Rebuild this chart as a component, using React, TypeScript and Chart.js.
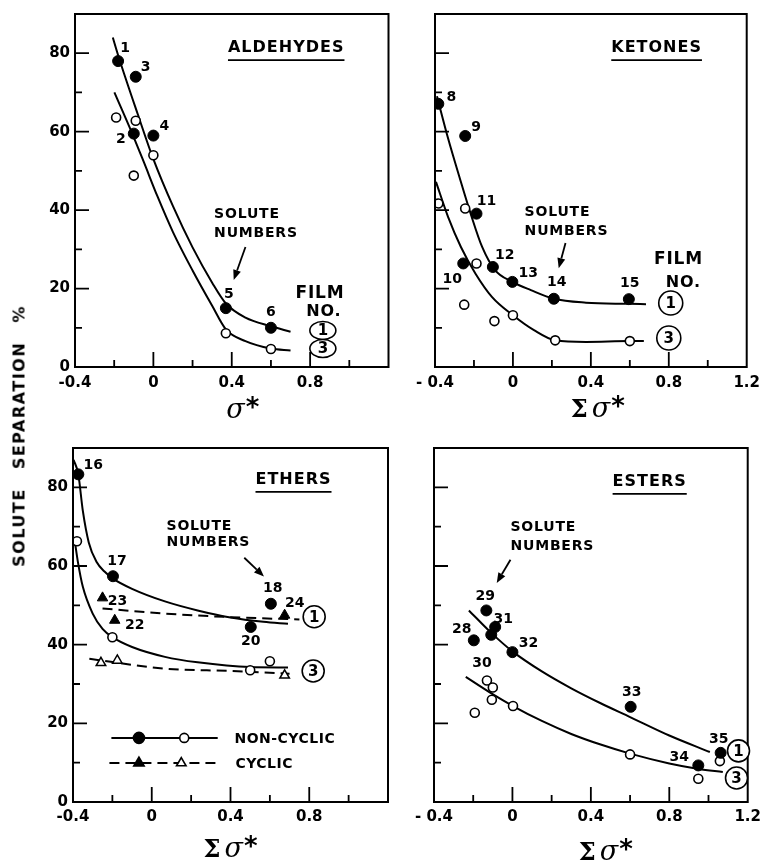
import React, { useEffect, useRef } from "react";
import { Chart, registerables } from "chart.js";

Chart.register(...registerables);

const SANS = '"DejaVu Sans", sans-serif';
const SERIF = '"DejaVu Serif", serif';

// ---------- Axis ticks ----------
const yTickValues = [0, 20, 40, 60, 80];
const yTickLabels = ["0", "20", "40", "60", "80"];
const xTickValuesLeft = [-0.4, 0, 0.4, 0.8];
const xTickLabelsLeft = ["-0.4", "0", "0.4", "0.8"];
const xTickValuesRight = [-0.4, 0, 0.4, 0.8, 1.2];
const xTickLabelsRight = ["- 0.4", "0", "0.4", "0.8", "1.2"];

// ---------- Aldehydes ----------
const aldFilm1X = [-0.18, -0.09, -0.1, 0.0, 0.37, 0.6];
const aldFilm1Y = [78, 74, 59.5, 59, 15, 10];
const aldFilm1Labels = ["1", "3", "2", "4", "5", "6"];
const aldFilm3X = [-0.19, -0.09, -0.1, 0.0, 0.37, 0.6];
const aldFilm3Y = [63.6, 62.8, 48.8, 54, 8.6, 4.6];
const aldCurve1X = [-0.207, -0.18, -0.08, 0.0, 0.1, 0.2, 0.3, 0.37, 0.47, 0.6, 0.7];
const aldCurve1Y = [84, 79.5, 64.5, 53, 41, 30.5, 21.5, 16.2, 12.6, 10.4, 9.0];
const aldCurve3X = [-0.199, -0.107, -0.05, 0.02, 0.1, 0.2, 0.3, 0.37, 0.47, 0.6, 0.7];
const aldCurve3Y = [70, 59.4, 52.4, 43.6, 34.4, 24.6, 15.6, 9.6, 6.6, 4.7, 4.2];

// ---------- Ketones ----------
const ketFilm1X = [-0.383, -0.245, -0.187, -0.255, -0.103, -0.003, 0.21, 0.595];
const ketFilm1Y = [67.1, 58.9, 39.1, 26.4, 25.5, 21.7, 17.4, 17.3];
const ketFilm1Labels = ["8", "9", "11", "10", "12", "13", "14", "15"];
const ketFilm3X = [-0.383, -0.245, -0.187, -0.25, -0.095, 0.0, 0.217, 0.6];
const ketFilm3Y = [41.7, 40.4, 26.4, 15.9, 11.7, 13.2, 6.8, 6.6];
const ketCurve1X = [-0.39, -0.333, -0.275, -0.217, -0.158, -0.092, -0.003, 0.092, 0.21, 0.375, 0.595, 0.683];
const ketCurve1Y = [69, 58.3, 48.5, 39.1, 30.6, 24.7, 21.7, 19.6, 17.4, 16.4, 16.1, 16.0];
const ketCurve3X = [-0.395, -0.333, -0.267, -0.192, -0.108, 0.0, 0.108, 0.217, 0.375, 0.6, 0.672];
const ketCurve3Y = [47.2, 38.3, 30.6, 23.8, 17.9, 13.2, 9.4, 6.8, 6.4, 6.6, 6.6];

// ---------- Ethers ----------
const ethNonCyc1X = [-0.373, -0.197, 0.605, 0.503];
const ethNonCyc1Y = [83.3, 57.4, 50.4, 44.5];
const ethNonCyc1Labels = ["16", "17", "18", "20"];
const ethNonCyc3X = [-0.38, -0.2, 0.6, 0.5];
const ethNonCyc3Y = [66.3, 41.9, 35.8, 33.5];
const ethCyc1X = [-0.25, -0.188, 0.675];
const ethCyc1Y = [51.9, 46.2, 47.5];
const ethCyc1Labels = ["23", "22", "24"];
const ethCyc3X = [-0.258, -0.175, 0.675];
const ethCyc3Y = [35.4, 36.0, 32.2];
const ethNcCurve1X = [-0.397, -0.373, -0.35, -0.32, -0.28, -0.24, -0.197, -0.1, 0.067, 0.233, 0.4, 0.567, 0.692];
const ethNcCurve1Y = [87, 83.3, 74, 66, 61, 58.6, 56.8, 54.2, 51.0, 48.7, 46.9, 45.8, 45.3];
const ethNcCurve3X = [-0.39, -0.375, -0.35, -0.3, -0.25, -0.2, -0.1, 0.067, 0.233, 0.5, 0.692];
const ethNcCurve3Y = [66, 61, 54.7, 47.9, 44.0, 41.9, 39.4, 36.9, 35.5, 34.3, 34.2];
const ethCyCurve1X = [-0.25, 0.067, 0.4, 0.75];
const ethCyCurve1Y = [49.2, 47.9, 47.0, 46.4];
const ethCyCurve3X = [-0.317, 0.067, 0.4, 0.7];
const ethCyCurve3Y = [36.4, 33.9, 33.3, 32.6];

// ---------- Esters ----------
const estFilm1X = [-0.133, -0.088, -0.197, -0.108, 0.0, 0.603, 0.948, 1.062];
const estFilm1Y = [48.7, 44.5, 41.1, 42.5, 38.1, 24.2, 9.3, 12.5];
const estFilm1Labels = ["29", "31", "28", "", "32", "33", "34", "35"];
const estFilm3X = [-0.13, -0.1, -0.105, -0.192, 0.003, 0.6, 0.948, 1.058];
const estFilm3Y = [30.9, 29.1, 26.0, 22.7, 24.4, 12.1, 5.9, 10.4];
const estFilm3Labels = ["30", "", "", "", "", "", "", ""];
const estCurve1X = [-0.222, -0.108, 0.0, 0.15, 0.3, 0.45, 0.6, 0.8, 1.007];
const estCurve1Y = [48.7, 43.0, 38.3, 33.2, 28.9, 25.1, 21.6, 16.9, 12.7];
const estCurve3X = [-0.238, -0.12, 0.003, 0.15, 0.3, 0.45, 0.6, 0.8, 0.95, 1.073];
const estCurve3Y = [31.8, 28.0, 24.4, 20.6, 17.3, 14.6, 12.3, 9.8, 8.4, 7.6];

// ---------- helpers ----------
const xy = (xs: number[], ys: number[]) => xs.map((x, i) => ({ x, y: ys[i] }));

const filledCircles = (xs: number[], ys: number[]) => ({
  data: xy(xs, ys), showLine: false, pointStyle: "circle", pointRadius: 5.5,
  pointBackgroundColor: "#000", pointBorderColor: "#000", pointBorderWidth: 1, order: 1,
});
const openCircles = (xs: number[], ys: number[]) => ({
  data: xy(xs, ys), showLine: false, pointStyle: "circle", pointRadius: 4.5,
  pointBackgroundColor: "#fff", pointBorderColor: "#000", pointBorderWidth: 1.6, order: 1,
});
const filledTriangles = (xs: number[], ys: number[]) => ({
  data: xy(xs, ys), showLine: false, pointStyle: "triangle", pointRadius: 6,
  pointBackgroundColor: "#000", pointBorderColor: "#000", pointBorderWidth: 1, order: 1,
});
const openTriangles = (xs: number[], ys: number[]) => ({
  data: xy(xs, ys), showLine: false, pointStyle: "triangle", pointRadius: 5.5,
  pointBackgroundColor: "#fff", pointBorderColor: "#000", pointBorderWidth: 1.5, order: 1,
});
const curve = (xs: number[], ys: number[], dashed = false) => ({
  data: xy(xs, ys), showLine: true, pointRadius: 0, borderColor: "#000", borderWidth: 2,
  cubicInterpolationMode: "monotone", tension: 0.4, borderDash: dashed ? [10, 6] : [],
  fill: false, order: 5,
});

type Ann = any;

function drawMarker(ctx: CanvasRenderingContext2D, x: number, y: number, kind: string) {
  ctx.save();
  ctx.lineWidth = 1.6;
  ctx.strokeStyle = "#000";
  ctx.beginPath();
  if (kind === "fc" || kind === "oc") {
    ctx.arc(x, y, kind === "fc" ? 5.5 : 4.5, 0, Math.PI * 2);
  } else {
    const r = kind === "ft" ? 6 : 5.5;
    ctx.moveTo(x, y - r);
    ctx.lineTo(x + r * 0.866, y + r * 0.5);
    ctx.lineTo(x - r * 0.866, y + r * 0.5);
    ctx.closePath();
  }
  ctx.fillStyle = kind[0] === "f" ? "#000" : "#fff";
  ctx.fill();
  ctx.stroke();
  ctx.restore();
}

function decorPlugin(spec: any) {
  return {
    id: "decor",
    afterDraw(chart: any) {
      const ctx: CanvasRenderingContext2D = chart.ctx;
      const { left, right, top, bottom } = chart.chartArea;
      const xs = chart.scales.x;
      const ys = chart.scales.y;
      const P = (x: number, y: number) => [xs.getPixelForValue(x), ys.getPixelForValue(y)];
      ctx.save();
      ctx.strokeStyle = "#000";
      ctx.fillStyle = "#000";
      // frame
      ctx.lineWidth = 2;
      ctx.strokeRect(left, top, right - left, bottom - top);
      // ticks (inside)
      ctx.lineWidth = 1.8;
      ctx.beginPath();
      for (let k = 1; k < 8; k++) {
        const px = xs.getPixelForValue(-0.4 + 0.2 * k);
        const len = k % 2 === 0 ? 15 : 7;
        ctx.moveTo(px, bottom);
        ctx.lineTo(px, bottom - len);
      }
      for (let k = 1; k < 9; k++) {
        const py = ys.getPixelForValue(10 * k);
        const len = k % 2 === 0 ? 14 : 7;
        ctx.moveTo(left, py);
        ctx.lineTo(left + len, py);
      }
      ctx.stroke();

      // point labels
      ctx.font = `bold 14px ${SANS}`;
      ctx.textAlign = "center";
      ctx.textBaseline = "middle";
      for (const pl of spec.pointLabels) {
        const meta = chart.getDatasetMeta(pl.ds);
        pl.texts.forEach((t: string, i: number) => {
          if (!t) return;
          const el = meta.data[i];
          const [dx, dy] = pl.offs[i];
          ctx.fillText(t, el.x + dx, el.y + dy);
        });
      }

      // annotations
      for (const a of spec.anns as Ann[]) {
        if (a.t === "title") {
          const [px, py] = P(a.x, a.y);
          ctx.font = `bold 16px ${SANS}`;
          (ctx as any).letterSpacing = "1px";
          ctx.textAlign = "center";
          ctx.textBaseline = "middle";
          ctx.fillText(a.text, px, py);
          const w = ctx.measureText(a.text).width;
          (ctx as any).letterSpacing = "0px";
          ctx.lineWidth = 1.6;
          ctx.beginPath();
          ctx.moveTo(px - w / 2, py + 12);
          ctx.lineTo(px + w / 2, py + 12);
          ctx.stroke();
        } else if (a.t === "text") {
          const [px, py] = P(a.x, a.y);
          ctx.font = `bold ${a.size || 14}px ${SANS}`;
          (ctx as any).letterSpacing = a.ls || "0.8px";
          ctx.textAlign = a.align || "left";
          ctx.textBaseline = "middle";
          ctx.fillText(a.text, px, py);
          (ctx as any).letterSpacing = "0px";
        } else if (a.t === "arrow") {
          const [x1, y1] = P(a.x1, a.y1);
          const [x2, y2] = P(a.x2, a.y2);
          const ang = Math.atan2(y2 - y1, x2 - x1);
          const hl = 10, hw = 4;
          const bx = x2 - hl * Math.cos(ang), by = y2 - hl * Math.sin(ang);
          ctx.lineWidth = 1.8;
          ctx.beginPath();
          ctx.moveTo(x1, y1);
          ctx.lineTo(bx, by);
          ctx.stroke();
          ctx.beginPath();
          ctx.moveTo(x2, y2);
          ctx.lineTo(bx + hw * Math.sin(ang), by - hw * Math.cos(ang));
          ctx.lineTo(bx - hw * Math.sin(ang), by + hw * Math.cos(ang));
          ctx.closePath();
          ctx.fill();
        } else if (a.t === "circ") {
          const [px, py] = P(a.x, a.y);
          ctx.lineWidth = 1.6;
          ctx.beginPath();
          ctx.ellipse(px, py, a.rx, a.ry, 0, 0, Math.PI * 2);
          ctx.fillStyle = "#fff";
          ctx.fill();
          ctx.stroke();
          ctx.fillStyle = "#000";
          ctx.font = `bold 15px ${SANS}`;
          ctx.textAlign = "center";
          ctx.textBaseline = "middle";
          ctx.fillText(a.text, px, py + 1);
        } else if (a.t === "legend") {
          const [x1, py] = P(a.x1, a.y);
          const [x2] = P(a.x2, a.y);
          ctx.lineWidth = 2;
          ctx.setLineDash(a.dash ? [10, 6] : []);
          ctx.beginPath();
          ctx.moveTo(x1, py);
          ctx.lineTo(x2, py);
          ctx.stroke();
          ctx.setLineDash([]);
          for (const m of a.marks) {
            const [mx] = P(m.x, a.y);
            drawMarker(ctx, mx, py, m.k);
          }
          const [lx] = P(a.lx, a.y);
          ctx.fillStyle = "#000";
          ctx.font = `bold 14px ${SANS}`;
          (ctx as any).letterSpacing = "0.5px";
          ctx.textAlign = "left";
          ctx.textBaseline = "middle";
          ctx.fillText(a.label, lx, py + 1);
          (ctx as any).letterSpacing = "0px";
        }
      }

      // x-axis title
      const parts = spec.xTitle.parts;
      let total = 0;
      for (const p of parts) {
        ctx.font = p.f;
        total += ctx.measureText(p.s).width + (p.gap || 0);
      }
      let cx = (left + right) / 2 - total / 2 + spec.xTitle.dx;
      ctx.textAlign = "left";
      ctx.textBaseline = "alphabetic";
      for (const p of parts) {
        ctx.font = p.f;
        ctx.fillText(p.s, cx, spec.xTitle.base + (p.dy || 0));
        cx += ctx.measureText(p.s).width + (p.gap || 0);
      }
      ctx.restore();
    },
  };
}

function buildConfig(spec: any) {
  const tickFont = { family: SANS, size: 15, weight: "bold" as const };
  return {
    type: "scatter" as const,
    data: { datasets: spec.datasets },
    options: {
      responsive: false,
      animation: false,
      events: [],
      layout: { padding: spec.padding },
      plugins: { legend: { display: false }, tooltip: { enabled: false }, title: { display: false } },
      scales: {
        x: {
          type: "linear", position: "bottom", min: -0.4, max: 1.2,
          grid: { display: false, drawTicks: false }, border: { display: false },
          afterBuildTicks: (s: any) => { s.ticks = spec.xVals.map((v: number) => ({ value: v })); },
          afterFit: (s: any) => { s.height = spec.xHeight; },
          ticks: {
            autoSkip: false, maxRotation: 0, minRotation: 0, padding: spec.xPad, color: "#000", font: tickFont,
            callback: (_v: any, i: number) => spec.xLabels[i],
          },
        },
        y: {
          type: "linear", position: "left", min: 0, max: 90,
          grid: { display: false, drawTicks: false }, border: { display: false },
          afterBuildTicks: (s: any) => { s.ticks = yTickValues.map((v) => ({ value: v })); },
          afterFit: (s: any) => { s.width = spec.yWidth; },
          ticks: {
            display: spec.yLabels, padding: 5, color: "#000", font: tickFont,
            callback: (_v: any, i: number) => yTickLabels[i],
          },
        },
      },
    },
    plugins: [decorPlugin(spec)],
  };
}

const sigmaTitle = (base: number, dx: number) => ({
  base, dx,
  parts: [
    { s: "σ", f: `italic 27px ${SERIF}`, gap: 1 },
    { s: "*", f: `bold 26px ${SANS}`, dy: -2 },
  ],
});
const sumSigmaTitle = (base: number, dx: number) => ({
  base, dx,
  parts: [
    { s: "Σ", f: `bold 24px ${SERIF}`, gap: 4 },
    { s: "σ", f: `italic 27px ${SERIF}`, gap: 1 },
    { s: "*", f: `bold 26px ${SANS}`, dy: -2 },
  ],
});

const specs = [
  {
    key: "ald", left: 0, top: 0, width: 395, height: 420,
    padding: { left: 0, top: 14, right: 2, bottom: 0 }, yWidth: 75, xHeight: 53, xPad: 7,
    yLabels: true, xVals: xTickValuesLeft, xLabels: xTickLabelsLeft,
    datasets: [
      filledCircles(aldFilm1X, aldFilm1Y),
      openCircles(aldFilm3X, aldFilm3Y),
      curve(aldCurve1X, aldCurve1Y),
      curve(aldCurve3X, aldCurve3Y),
    ],
    pointLabels: [
      { ds: 0, texts: aldFilm1Labels, offs: [[7, -13], [10, -9], [-13, 6], [11, -9], [3, -14], [0, -15]] },
    ],
    anns: [
      { t: "title", x: 0.678, y: 81.3, text: "ALDEHYDES" },
      { t: "text", x: 0.31, y: 39.0, text: "SOLUTE" },
      { t: "text", x: 0.31, y: 34.2, text: "NUMBERS" },
      { t: "arrow", x1: 0.47, y1: 30.6, x2: 0.41, y2: 22.2 },
      { t: "text", x: 0.85, y: 18.6, text: "FILM", size: 17, align: "center" },
      { t: "text", x: 0.87, y: 14.0, text: "NO.", size: 16, align: "center" },
      { t: "circ", x: 0.865, y: 9.3, rx: 13, ry: 9, text: "1" },
      { t: "circ", x: 0.865, y: 4.7, rx: 13, ry: 9, text: "3" },
    ],
    xTitle: sigmaTitle(418, 11),
  },
  {
    key: "ket", left: 395, top: 0, width: 372, height: 420,
    padding: { left: 0, top: 14, right: 12, bottom: 0 }, yWidth: 40, xHeight: 53, xPad: 7,
    yLabels: false, xVals: xTickValuesRight, xLabels: xTickLabelsRight,
    datasets: [
      filledCircles(ketFilm1X, ketFilm1Y),
      openCircles(ketFilm3X, ketFilm3Y),
      curve(ketCurve1X, ketCurve1Y),
      curve(ketCurve3X, ketCurve3Y),
    ],
    pointLabels: [
      { ds: 0, texts: ketFilm1Labels, offs: [[13, -6], [11, -9], [10, -12], [-11, 16], [12, -12], [16, -9], [3, -16], [1, -16]] },
    ],
    anns: [
      { t: "title", x: 0.7375, y: 81.3, text: "KETONES" },
      { t: "text", x: 0.06, y: 39.3, text: "SOLUTE" },
      { t: "text", x: 0.06, y: 34.7, text: "NUMBERS" },
      { t: "arrow", x1: 0.27, y1: 31.6, x2: 0.235, y2: 25.2 },
      { t: "text", x: 0.85, y: 27.3, text: "FILM", size: 17, align: "center" },
      { t: "text", x: 0.875, y: 21.4, text: "NO.", size: 16, align: "center" },
      { t: "circ", x: 0.81, y: 16.3, rx: 12, ry: 12, text: "1" },
      { t: "circ", x: 0.8, y: 7.4, rx: 12, ry: 12, text: "3" },
    ],
    xTitle: sumSigmaTitle(417, 7),
  },
  {
    key: "eth", left: 0, top: 420, width: 395, height: 445,
    padding: { left: 0, top: 28, right: 2, bottom: 0 }, yWidth: 73, xHeight: 63, xPad: 6,
    yLabels: true, xVals: xTickValuesLeft, xLabels: xTickLabelsLeft,
    datasets: [
      filledCircles(ethNonCyc1X, ethNonCyc1Y),
      openCircles(ethNonCyc3X, ethNonCyc3Y),
      filledTriangles(ethCyc1X, ethCyc1Y),
      openTriangles(ethCyc3X, ethCyc3Y),
      curve(ethNcCurve1X, ethNcCurve1Y),
      curve(ethNcCurve3X, ethNcCurve3Y),
      curve(ethCyCurve1X, ethCyCurve1Y, true),
      curve(ethCyCurve3X, ethCyCurve3Y, true),
    ],
    pointLabels: [
      { ds: 0, texts: ethNonCyc1Labels, offs: [[15, -9], [4, -15], [2, -15], [0, 14]] },
      { ds: 2, texts: ethCyc1Labels, offs: [[15, 3], [20, 5], [10, -12]] },
    ],
    anns: [
      { t: "title", x: 0.72, y: 81.9, text: "ETHERS" },
      { t: "text", x: 0.075, y: 70.0, text: "SOLUTE" },
      { t: "text", x: 0.075, y: 65.9, text: "NUMBERS" },
      { t: "arrow", x1: 0.47, y1: 62.1, x2: 0.57, y2: 57.3 },
      { t: "circ", x: 0.825, y: 47.1, rx: 11, ry: 11, text: "1" },
      { t: "circ", x: 0.82, y: 33.3, rx: 11, ry: 11, text: "3" },
      { t: "legend", y: 16.3, x1: -0.205, x2: 0.335, dash: false, marks: [{ x: -0.065, k: "fc" }, { x: 0.165, k: "oc" }], label: "NON-CYCLIC", lx: 0.42 },
      { t: "legend", y: 9.9, x1: -0.215, x2: 0.345, dash: true, marks: [{ x: -0.065, k: "ft" }, { x: 0.15, k: "ot" }], label: "CYCLIC", lx: 0.425 },
    ],
    xTitle: sumSigmaTitle(437, 0),
  },
  {
    key: "est", left: 395, top: 420, width: 372, height: 445,
    padding: { left: 0, top: 28, right: 11, bottom: 0 }, yWidth: 39, xHeight: 63, xPad: 6,
    yLabels: false, xVals: xTickValuesRight, xLabels: xTickLabelsRight,
    datasets: [
      filledCircles(estFilm1X, estFilm1Y),
      openCircles(estFilm3X, estFilm3Y),
      curve(estCurve1X, estCurve1Y),
      curve(estCurve3X, estCurve3Y),
    ],
    pointLabels: [
      { ds: 0, texts: estFilm1Labels, offs: [[-1, -14], [8, -8], [-12, -11], [0, 0], [16, -9], [1, -14], [-19, -8], [-2, -13]] },
      { ds: 1, texts: estFilm3Labels, offs: [[-5, -17], [0, 0], [0, 0], [0, 0], [0, 0], [0, 0], [0, 0], [0, 0]] },
    ],
    anns: [
      { t: "title", x: 0.7, y: 81.4, text: "ESTERS" },
      { t: "text", x: -0.01, y: 69.7, text: "SOLUTE" },
      { t: "text", x: -0.01, y: 64.9, text: "NUMBERS" },
      { t: "arrow", x1: -0.01, y1: 61.6, x2: -0.08, y2: 55.7 },
      { t: "circ", x: 1.153, y: 13.0, rx: 11, ry: 11, text: "1" },
      { t: "circ", x: 1.143, y: 6.1, rx: 11, ry: 11, text: "3" },
    ],
    xTitle: sumSigmaTitle(440, 15),
  },
];

function Panel({ spec }: { spec: any }) {
  const ref = useRef<HTMLCanvasElement>(null);
  useEffect(() => {
    const chart = new Chart(ref.current as HTMLCanvasElement, buildConfig(spec) as any);
    return () => chart.destroy();
  }, [spec]);
  return (
    <canvas
      ref={ref}
      width={spec.width}
      height={spec.height}
      style={{ position: "absolute", left: spec.left, top: spec.top, width: spec.width, height: spec.height }}
    />
  );
}

export default function App() {
  return (
    <div style={{ position: "absolute", left: 0, top: 0, width: 765, height: 865, background: "#fff", overflow: "hidden" }}>
      {specs.map((s) => (
        <Panel key={s.key} spec={s} />
      ))}
      <div
        style={{
          position: "absolute", left: 19, top: 436,
          transform: "translate(-50%, -50%) rotate(-90deg)",
          font: `bold 16px ${SANS}`, letterSpacing: "1.5px", wordSpacing: "12px",
          whiteSpace: "nowrap", color: "#000",
        }}
      >
        SOLUTE SEPARATION %
      </div>
    </div>
  );
}
